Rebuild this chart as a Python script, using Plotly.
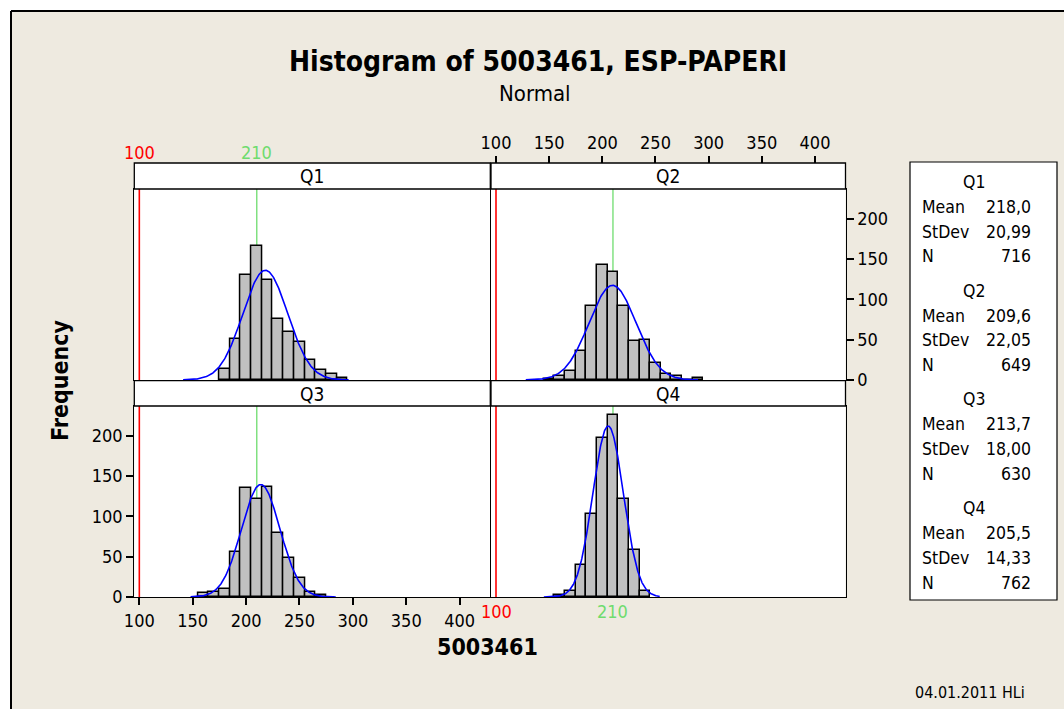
import numpy as np
import plotly.graph_objects as go

# ---------------- data ----------------
groups = ["Q1", "Q2", "Q3", "Q4"]

q1_bins = [180, 190, 200, 210, 220, 230, 240, 250, 260, 270, 280, 290]
q1_counts = [14, 51, 130, 166, 124, 76, 60, 47, 25, 13, 7, 3]

q2_bins = [150, 160, 170, 180, 190, 200, 210, 220, 230, 240, 250, 260, 270, 280, 290]
q2_counts = [1, 5, 11, 36, 92, 143, 134, 92, 48, 50, 21, 8, 5, 0, 3]

q3_bins = [160, 170, 180, 190, 200, 210, 220, 230, 240, 250, 260, 270]
q3_counts = [5, 6, 10, 56, 135, 122, 137, 79, 48, 23, 6, 3]

q4_bins = [160, 170, 180, 190, 200, 210, 220, 230, 240]
q4_counts = [2, 8, 40, 103, 197, 226, 121, 58, 7]

means = [218.0, 209.6, 213.7, 205.5]
stdevs = [20.99, 22.05, 18.00, 14.33]
ns = [716, 649, 630, 762]
curve_lo = [141, 128, 148, 145]
curve_hi = [296, 290, 284, 254]

bin_width = 10
lsl = 100        # red reference line
target = 210     # green reference line
x_ticks = [100, 150, 200, 250, 300, 350, 400]
y_ticks = [0, 50, 100, 150, 200]

title = "Histogram of 5003461, ESP-PAPERI"
subtitle = "Normal"
x_title = "5003461"
y_title = "Frequency"
footer = "04.01.2011 HLi"

# ---------------- layout helpers ----------------
W, H = 1064, 709
FONT = "DejaVu Sans Condensed, DejaVu Sans, sans-serif"
BG = "#EEEAE0"


def px(xp):
    return xp / W


def py(yp):
    return 1 - yp / H


x_range = [95.3, 428.7]
y_range = [0, 237]

LX = [px(134.3), px(490.3)]
RX = [px(491.0), px(845.5)]
TY = [py(380), py(189)]
BY = [py(597), py(406)]

bins_all = [q1_bins, q2_bins, q3_bins, q4_bins]
counts_all = [q1_counts, q2_counts, q3_counts, q4_counts]
axis_ids = [("x", "y"), ("x2", "y2"), ("x3", "y3"), ("x4", "y4")]

fig = go.Figure()

for i in range(4):
    xa, ya = axis_ids[i]
    fig.add_trace(go.Bar(
        x=bins_all[i], y=counts_all[i], width=bin_width,
        marker=dict(color="#C0C0C0", line=dict(color="black", width=1.5)),
        xaxis=xa, yaxis=ya, showlegend=False, hoverinfo="skip"))
    xs = np.linspace(curve_lo[i], curve_hi[i], 300)
    scale = ns[i] * bin_width / (stdevs[i] * np.sqrt(2 * np.pi))
    ys = scale * np.exp(-0.5 * ((xs - means[i]) / stdevs[i]) ** 2)
    fig.add_trace(go.Scatter(
        x=xs, y=ys, mode="lines", line=dict(color="#0000FF", width=1.6),
        xaxis=xa, yaxis=ya, showlegend=False, hoverinfo="skip"))

# invisible trace for the top tick axis of Q2
fig.add_trace(go.Scatter(x=[None], y=[None], xaxis="x5", yaxis="y2",
                         showlegend=False, hoverinfo="skip"))

base_ax = dict(showgrid=False, zeroline=False, showline=True, mirror=True,
               linecolor="black", linewidth=1.3, ticks="", showticklabels=False,
               fixedrange=True, automargin=False)
tick_font = dict(family=FONT, size=18, color="black")
tick_ax = dict(ticks="outside", ticklen=7, tickwidth=1.5, tickcolor="black",
               showticklabels=True, tickfont=tick_font)

layout = dict(
    width=W, height=H,
    margin=dict(l=0, r=0, t=0, b=0, pad=0, autoexpand=False),
    paper_bgcolor=BG, plot_bgcolor="white",
    showlegend=False, bargap=0,
    xaxis=dict(base_ax, domain=LX, anchor="y", range=x_range),
    yaxis=dict(base_ax, domain=TY, anchor="x", range=y_range),
    xaxis2=dict(base_ax, domain=RX, anchor="y2", range=x_range),
    yaxis2=dict(base_ax, **tick_ax, domain=TY, anchor="x2", range=y_range,
                side="right", tickvals=y_ticks),
    xaxis3=dict(base_ax, **tick_ax, domain=LX, anchor="y3", range=x_range,
                tickvals=x_ticks),
    yaxis3=dict(base_ax, **tick_ax, domain=BY, anchor="x3", range=y_range,
                tickvals=y_ticks),
    xaxis4=dict(base_ax, domain=RX, anchor="y4", range=x_range),
    yaxis4=dict(base_ax, domain=BY, anchor="x4", range=y_range),
    xaxis5=dict(showgrid=False, zeroline=False, showline=False, range=x_range,
                overlaying="x2", anchor="free", position=py(163), side="top",
                tickvals=x_ticks, fixedrange=True, automargin=False, **tick_ax),
)
fig.update_layout(**layout)

shapes = []
# frame: white margins on top/left and black border lines
shapes.append(dict(type="rect", xref="paper", yref="paper", x0=0, x1=px(11),
                   y0=0, y1=1, fillcolor="white", line=dict(width=0)))
shapes.append(dict(type="rect", xref="paper", yref="paper", x0=0, x1=1,
                   y0=py(11), y1=1, fillcolor="white", line=dict(width=0)))
shapes.append(dict(type="line", xref="paper", yref="paper", x0=px(11), x1=1.01,
                   y0=py(11), y1=py(11), line=dict(color="black", width=2)))
shapes.append(dict(type="line", xref="paper", yref="paper", x0=px(11), x1=px(11),
                   y0=-0.01, y1=py(11), line=dict(color="black", width=2)))

# strips
for (x0, x1), (y0p, y1p) in [(LX, (163, 189)), (RX, (163, 189)),
                             (LX, (380.7, 406)), (RX, (380.7, 406))]:
    shapes.append(dict(type="rect", xref="paper", yref="paper", x0=x0, x1=x1,
                       y0=py(y1p), y1=py(y0p), fillcolor="white",
                       line=dict(color="black", width=1.3)))

# reference lines behind bars
for i in range(4):
    xa, ya = axis_ids[i]
    shapes.append(dict(type="line", xref=xa, yref=ya, x0=lsl, x1=lsl,
                       y0=y_range[0], y1=y_range[1], layer="below",
                       line=dict(color="#FF0000", width=1.6)))
    shapes.append(dict(type="line", xref=xa, yref=ya, x0=target, x1=target,
                       y0=y_range[0], y1=y_range[1], layer="below",
                       line=dict(color="#6EDC6E", width=1.3)))

# stats box
shapes.append(dict(type="rect", xref="paper", yref="paper", x0=px(910), x1=px(1057),
                   y0=py(600), y1=py(162), fillcolor="white",
                   line=dict(color="black", width=1.2)))

fig.update_layout(shapes=shapes)

ann = []
ann.append(dict(text="<b>" + title + "</b>", x=px(538), y=py(62), xref="paper", yref="paper",
                showarrow=False, font=dict(family=FONT, size=28, color="black"),
                xanchor="center", yanchor="middle"))
ann.append(dict(text=subtitle, x=px(535), y=py(93), xref="paper", yref="paper",
                showarrow=False, font=dict(family=FONT, size=22, color="black"),
                xanchor="center", yanchor="middle"))
ann.append(dict(text="<b>" + x_title + "</b>", x=px(487), y=py(647), xref="paper", yref="paper",
                showarrow=False, font=dict(family=FONT, size=23, color="black"),
                xanchor="center", yanchor="middle"))
ann.append(dict(text="<b>" + y_title + "</b>", x=px(60), y=py(381), xref="paper", yref="paper",
                showarrow=False, textangle=-90, font=dict(family=FONT, size=23, color="black"),
                xanchor="center", yanchor="middle"))
ann.append(dict(text=footer, x=px(970), y=py(692), xref="paper", yref="paper",
                showarrow=False, font=dict(family=FONT, size=16, color="black"),
                xanchor="center", yanchor="middle"))

# strip labels
for i, (dx, sy) in enumerate([(LX, 176), (RX, 176), (LX, 393.5), (RX, 393.5)]):
    ann.append(dict(text=groups[i], x=(dx[0] + dx[1]) / 2, y=py(sy), xref="paper", yref="paper",
                    showarrow=False, font=dict(family=FONT, size=19, color="black"),
                    xanchor="center", yanchor="middle"))

# reference line labels
for xa, yy in [("x", 152), ("x4", 611)]:
    ann.append(dict(text=str(lsl), x=lsl, y=py(yy), xref=xa, yref="paper", showarrow=False,
                    font=dict(family=FONT, size=18, color="#FF0000"),
                    xanchor="center", yanchor="middle"))
    ann.append(dict(text=str(target), x=target, y=py(yy), xref=xa, yref="paper", showarrow=False,
                    font=dict(family=FONT, size=18, color="#6EDC6E"),
                    xanchor="center", yanchor="middle"))

# stats text
sfont = dict(family=FONT, size=17.5, color="black")
for i in range(4):
    hy = 182 + i * 108.7
    ann.append(dict(text=groups[i], x=px(974), y=py(hy), xref="paper", yref="paper",
                    showarrow=False, font=sfont, xanchor="center", yanchor="middle"))
    rows = [("Mean", f"{means[i]:.1f}".replace(".", ",")),
            ("StDev", f"{stdevs[i]:.2f}".replace(".", ",")),
            ("N", str(ns[i]))]
    for k, (lab, val) in enumerate(rows):
        yy = hy + 24.8 * (k + 1)
        ann.append(dict(text=lab, x=px(920), y=py(yy), xref="paper", yref="paper",
                        showarrow=False, font=sfont, xanchor="left", yanchor="middle"))
        ann.append(dict(text=val, x=px(1033), y=py(yy), xref="paper", yref="paper",
                        showarrow=False, font=sfont, xanchor="right", yanchor="middle"))

fig.update_layout(annotations=ann)

fig.write_html(
    "out.html",
    config={"displayModeBar": False},
    post_script="document.body.style.margin='0px';document.body.style.overflow='hidden';",
)
